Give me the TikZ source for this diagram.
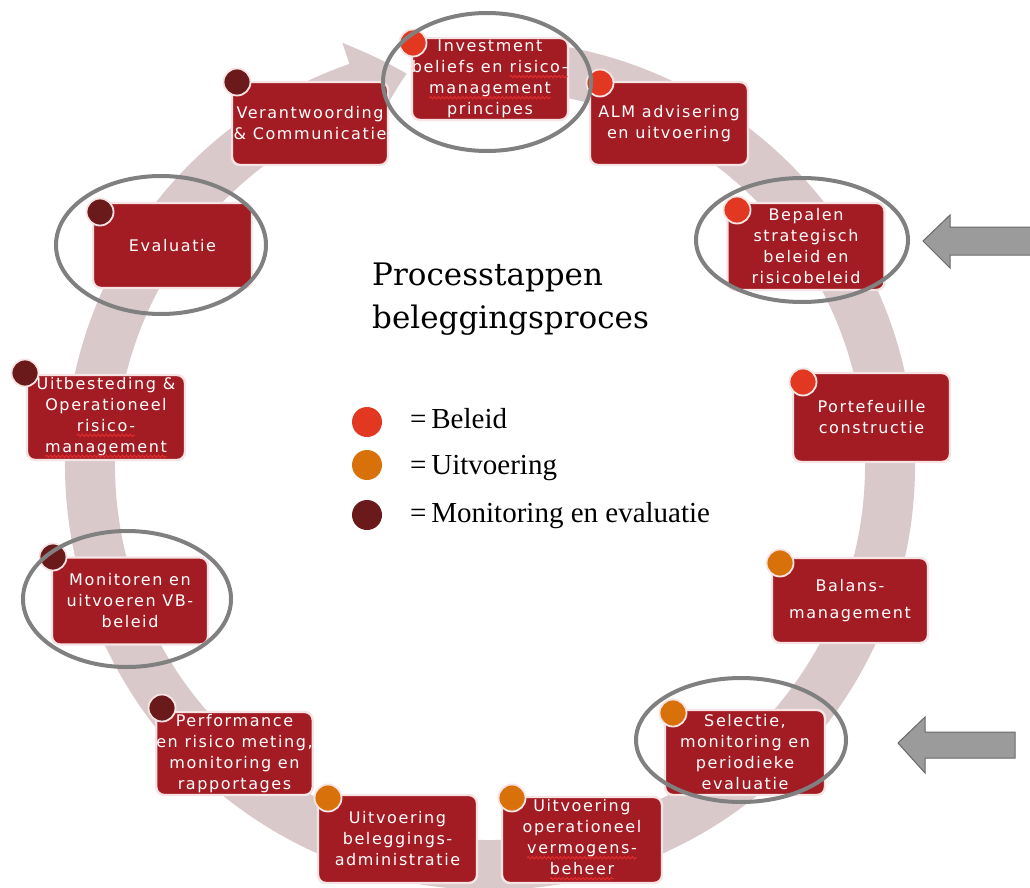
\documentclass[tikz,border=0pt]{standalone}
\usepackage{fontspec}
\usetikzlibrary{arrows.meta,bending,decorations.pathmorphing}
\newfontfamily\boxfont[LetterSpace=10]{DejaVu Sans}
\newfontfamily\titlefont{DejaVu Serif}
\newfontfamily\legfont{Liberation Serif}
\definecolor{boxred}{RGB}{163,28,36}
\definecolor{boxedge}{RGB}{246,228,228}
\definecolor{beleid}{RGB}{226,55,33}
\definecolor{uitv}{RGB}{217,113,10}
\definecolor{monit}{RGB}{106,26,26}
\definecolor{ringcol}{RGB}{217,201,203}
\definecolor{ellcol}{RGB}{128,128,128}
\definecolor{arrfill}{RGB}{155,155,155}
\definecolor{arredge}{RGB}{105,105,105}
\definecolor{wavered}{RGB}{230,45,45}
\newcommand\redwave[1]{\tikz[baseline=(w.base),x=1pt,y=1pt]{\node[rectangle,draw=none,fill=none,inner sep=0pt,outer sep=0pt,minimum width=0pt,minimum height=0pt,sharp corners,align=center](w){#1};\draw[wavered,sharp corners,line width=0.9pt,decorate,decoration={snake,amplitude=1.2pt,segment length=4pt}] ([yshift=-4pt]w.base west) -- ([yshift=-4pt]w.base east);}}
\tikzset{
  stepbox/.style={rectangle, rounded corners=8pt, fill=boxred, draw=boxedge, line width=2.4pt,
    text=white, font=\fontsize{16}{21}\selectfont\boxfont, align=center, inner sep=0pt},
  stepdot/.style={circle, draw=boxedge, line width=1.8pt, minimum size=27pt, inner sep=0pt},
  legdot/.style={circle, minimum size=30pt, inner sep=0pt},
  hilite/.style={draw=ellcol, line width=4pt},
  greyarrow/.style={fill=arrfill, draw=arredge, line width=1pt},
  legtext/.style={anchor=base west, inner sep=0pt, font=\fontsize{29}{32}\selectfont\legfont},
  titletext/.style={anchor=base west, inner sep=0pt, font=\fontsize{31}{34}\selectfont\titlefont},
}
\begin{document}
\begin{tikzpicture}[x=1pt,y=-1pt]
\useasboundingbox (0,0) rectangle (1030,888);
\fill[white] (0,0) rectangle (1030,888);
% background cycle ring
\coordinate (c) at (490,465);
\draw[ringcol, line width=50pt, -{Triangle[length=52pt,width=92pt,bend]}]
  ([shift={(265:400)}]c) arc[start angle=265, end angle=618, radius=400];

% boxes
\node[stepbox, minimum width=156pt, minimum height=82pt] (b1) at (490,79) {Investment\\beliefs en \redwave{risico-}\\\redwave{management}\\principes};
\node[stepbox, minimum width=158pt, minimum height=83pt] (b2) at (669,123.5) {ALM advisering\\en uitvoering};
\node[stepbox, minimum width=157pt, minimum height=87pt] (b3) at (806,246.5) {Bepalen\\strategisch\\beleid en\\risicobeleid};
\node[stepbox, minimum width=157pt, minimum height=89pt] (b4) at (871.5,417.5) {Portefeuille\\constructie};
\node[stepbox, minimum width=156pt, minimum height=85pt] (b5) at (850,600.5) {Balans-\\[6pt]management};
\node[stepbox, minimum width=160pt, minimum height=85pt] (b6) at (745,752.5) {Selectie,\\monitoring en\\periodieke\\evaluatie};
\node[stepbox, minimum width=160pt, minimum height=86pt] (b7) at (582,840) {Uitvoering\\operationeel\\\redwave{vermogens-}\\\redwave{beheer}};
\node[stepbox, minimum width=159pt, minimum height=88pt] (b8) at (397.5,839) {Uitvoering\\beleggings-\\administratie};
\node[stepbox, minimum width=155pt, minimum height=83pt] (b9) at (234.5,753.5) {Performance\\en risico meting,\\monitoring en\\rapportages};
\node[stepbox, minimum width=156pt, minimum height=87pt] (b10) at (130,601) {Monitoren en\\uitvoeren VB-\\beleid};
\node[stepbox, minimum width=158pt, minimum height=85pt] (b11) at (106,417.5) {Uitbesteding \&\\Operationeel\\\redwave{risico-}\\\redwave{management}};
\node[stepbox, minimum width=159pt, minimum height=85pt] (b12) at (172.5,245.5) {Evaluatie};
\node[stepbox, minimum width=156pt, minimum height=83pt] (b13) at (310,123.5) {Verantwoording\\\& Communicatie};

% dots
\node[stepdot, fill=beleid] (d1) at (413,43) {};
\node[stepdot, fill=beleid] (d2) at (600,83) {};
\node[stepdot, fill=beleid] (d3) at (737,210) {};
\node[stepdot, fill=beleid] (d4) at (803,382) {};
\node[stepdot, fill=uitv] (d5) at (780,563) {};
\node[stepdot, fill=uitv] (d6) at (673,713) {};
\node[stepdot, fill=uitv] (d7) at (512,798) {};
\node[stepdot, fill=uitv] (d8) at (328,798) {};
\node[stepdot, fill=monit] (d9) at (162,708) {};
\node[stepdot, fill=monit] (d10) at (53,557) {};
\node[stepdot, fill=monit] (d11) at (25,373) {};
\node[stepdot, fill=monit] (d12) at (100,212) {};
\node[stepdot, fill=monit] (d13) at (237,82) {};

% highlight ellipses
\draw[hilite] (487,82) ellipse[x radius=104, y radius=69];
\draw[hilite] (802,240) ellipse[x radius=106, y radius=62];
\draw[hilite] (161,245) ellipse[x radius=105, y radius=69];
\draw[hilite] (127,599) ellipse[x radius=104, y radius=68];
\draw[hilite] (741,740) ellipse[x radius=105, y radius=62];

% grey arrows
\draw[greyarrow] (923,241) -- (950,215) -- (950,227) -- (1031,227) -- (1031,255) -- (950,255) -- (950,268) -- cycle;
\draw[greyarrow] (898,743) -- (925,717) -- (925,732) -- (1015,732) -- (1015,758) -- (925,758) -- (925,773) -- cycle;

% title
\node[titletext] (t1) at (372,285) {Processtappen};
\node[titletext] (t2) at (372,328) {beleggingsproces};

% legend
\node[legdot, fill=beleid] (l1) at (367,422) {};
\node[legdot, fill=uitv] (l2) at (367,465) {};
\node[legdot, fill=monit] (l3) at (367,515) {};
\node[legtext] (lt1) at (410,428) {=\,Beleid};
\node[legtext] (lt2) at (410,474) {=\,Uitvoering};
\node[legtext] (lt3) at (410,522) {=\,Monitoring en evaluatie};
\end{tikzpicture}
\end{document}
